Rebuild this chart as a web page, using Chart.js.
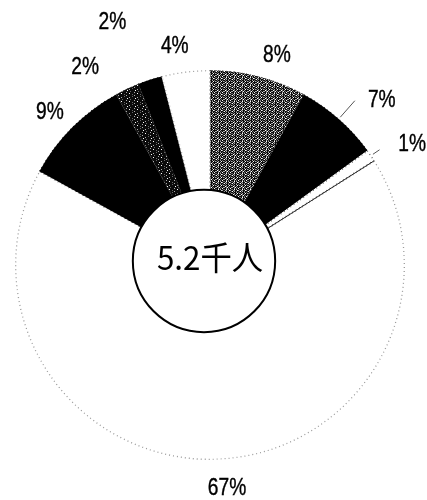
<!DOCTYPE html>
<html>
<head>
<meta charset="utf-8">
<script src="https://cdn.jsdelivr.net/npm/chart.js@4/dist/chart.umd.min.js"></script>
<style>
  html, body { margin: 0; padding: 0; background: #fff; }
  #wrap { position: relative; width: 427px; height: 500px; }
</style>
</head>
<body>
<div id="wrap"><canvas id="c"></canvas></div>
<script>
// Data (clockwise from 12 o'clock)
const categories = ['A', 'B', 'C', 'D', 'E', 'F', 'G', 'H'];
const shares = [8, 7, 1, 67, 9, 2, 2, 4];
const shareLabels = ['8%', '7%', '1%', '67%', '9%', '2%', '2%', '4%'];
const centerText = '5.2千人';

// Texture bitmaps for the stippled segments (style only)
function makePattern(rows) {
  const h = rows.length, w = rows[0].length;
  const cv = document.createElement('canvas');
  cv.width = w; cv.height = h;
  const c = cv.getContext('2d');
  for (let y = 0; y < h; y++) {
    for (let x = 0; x < w; x++) {
      const ch = rows[y][x];
      c.fillStyle = ch === '#' ? '#0a0a0a' : ch === '+' ? '#666' : ch === '.' ? '#aaa' : '#fff';
      c.fillRect(x, y, 1, 1);
    }
  }
  return c.createPattern(cv, 'repeat');
}
const lightStipple = makePattern([
  '#+##.#+#',
  '+#.## #.',
  '# +#.###',
  '.#+ #+#.',
  '##.#+# #',
  '+# #.##+',
  '#.+## .#',
  ' #.#+##+'
]);
const darkStipple = makePattern([
  '####+###',
  '#.######',
  '####### ',
  '##+#####',
  '######.#',
  '# ######',
  '####+###',
  '######.#'
]);

// Styles
const fillColors = [lightStipple, '#000000', '#ffffff', '#ffffff', '#000000', darkStipple, '#000000', '#ffffff'];
const edgeColors = ['#444444', '#000000', '#666666', '#9a9a9a', '#000000', '#333333', '#000000', '#9a9a9a'];
const labelNudge = [[11, 8], [23, 4], [16, 6], [10, -2], [-1, 6], [-29, 6], [-28, -29], [-7, 5]];
const leaderIdx = [1, 2];
const solidEdgeIdx = 2;
const circleShift = [-6, -4];

const overlay = {
  id: 'overlay',
  afterDatasetsDraw(chart) {
    const ctx = chart.ctx;
    const meta = chart.getDatasetMeta(0);
    const a0 = meta.data[0];
    const cx = a0.x, cy = a0.y, R = a0.outerRadius;
    const rc = R * 0.365;
    ctx.save();
    // solid radial edge between the small white slice and the large one
    const se = meta.data[solidEdgeIdx].endAngle;
    ctx.strokeStyle = '#222';
    ctx.lineWidth = 1;
    ctx.beginPath();
    ctx.moveTo(cx + Math.cos(se) * (rc - 4), cy + Math.sin(se) * (rc - 4));
    ctx.lineTo(cx + Math.cos(se) * (R - 1), cy + Math.sin(se) * (R - 1));
    ctx.stroke();
    // leader lines
    ctx.strokeStyle = '#555';
    leaderIdx.forEach(i => {
      const arc = meta.data[i];
      const mid = (arc.startAngle + arc.endAngle) / 2;
      const r1 = R + 2, r2 = i === 1 ? R + 24 : R + 10;
      ctx.beginPath();
      ctx.moveTo(cx + Math.cos(mid) * r1, cy + Math.sin(mid) * r1);
      ctx.lineTo(cx + Math.cos(mid) * r2, cy + Math.sin(mid) * r2);
      ctx.stroke();
    });
    // labels (narrow face)
    ctx.fillStyle = '#000';
    ctx.strokeStyle = '#000';
    ctx.lineWidth = 0.4;
    ctx.font = '24px "Liberation Sans", Arial, sans-serif';
    ctx.textAlign = 'center';
    ctx.textBaseline = 'middle';
    const sx = 0.8;
    meta.data.forEach((arc, i) => {
      const mid = (arc.startAngle + arc.endAngle) / 2;
      const lr = R + 30;
      const x = cx + Math.cos(mid) * lr + labelNudge[i][0];
      const y = cy + Math.sin(mid) * lr + labelNudge[i][1];
      ctx.save();
      ctx.translate(x, y);
      ctx.scale(sx, 1);
      ctx.fillText(shareLabels[i], 0, 0);
      ctx.strokeText(shareLabels[i], 0, 0);
      ctx.restore();
    });
    // center circle
    const ccx = cx + circleShift[0], ccy = cy + circleShift[1];
    ctx.beginPath();
    ctx.arc(ccx, ccy, rc, 0, Math.PI * 2);
    ctx.fillStyle = '#fff';
    ctx.fill();
    ctx.lineWidth = 2;
    ctx.strokeStyle = '#000';
    ctx.stroke();
    ctx.fillStyle = '#000';
    ctx.font = '33px "Noto Sans CJK JP", sans-serif';
    ctx.save();
    ctx.translate(cx, cy - 8);
    ctx.scale(0.95, 1);
    ctx.fillText(centerText, 0, 0);
    ctx.restore();
    ctx.restore();
  }
};

new Chart(document.getElementById('c'), {
  type: 'doughnut',
  data: {
    labels: categories,
    datasets: [{
      data: shares,
      backgroundColor: fillColors,
      borderColor: edgeColors,
      borderWidth: 1,
      borderAlign: 'inner',
      borderDash: [1, 3]
    }]
  },
  options: {
    responsive: true,
    maintainAspectRatio: false,
    animation: false,
    cutout: '30%',
    layout: { padding: { left: 15, right: 22, top: 70, bottom: 40 } },
    plugins: { legend: { display: false }, tooltip: { enabled: false } }
  },
  plugins: [overlay]
});
</script>
</body>
</html>
